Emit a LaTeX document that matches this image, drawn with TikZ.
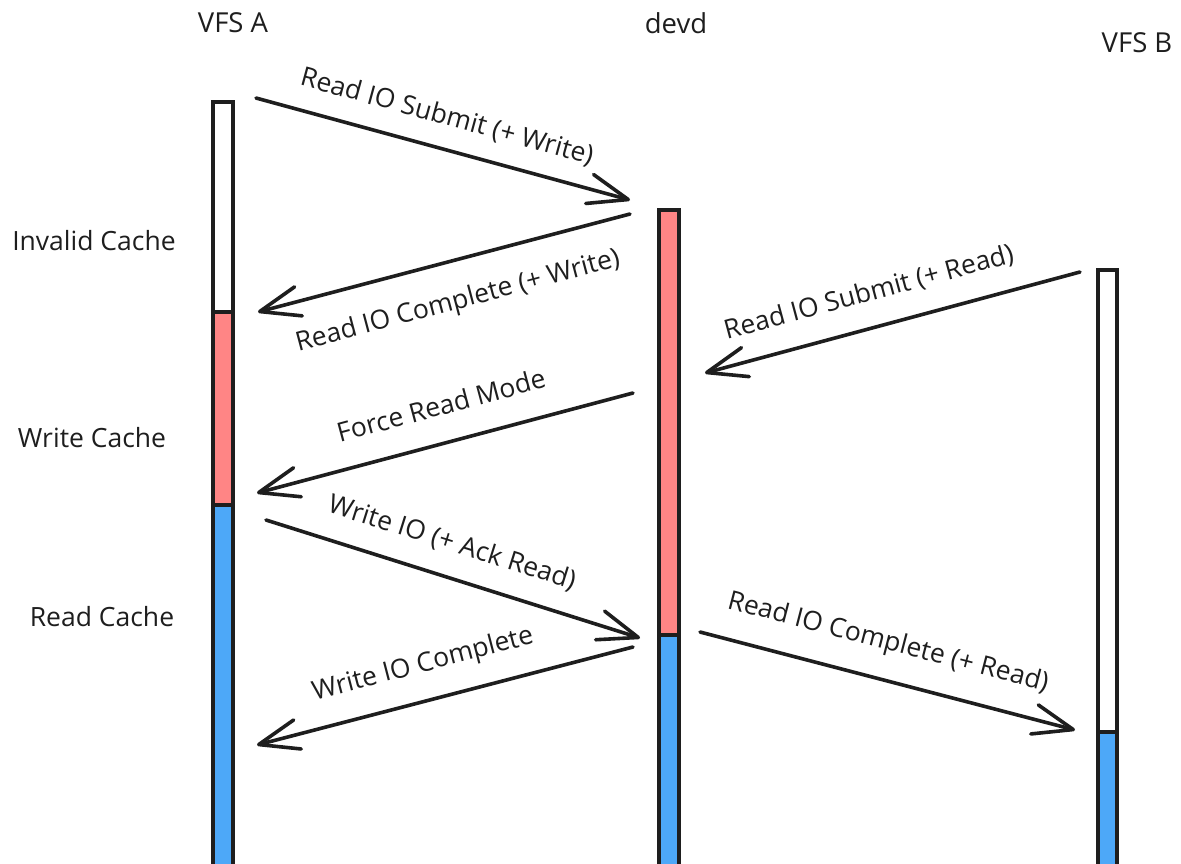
\documentclass[tikz,border=0pt]{standalone}
\usepackage{fontspec}
\setmainfont{Open Sans}
\usetikzlibrary{arrows.meta}
\definecolor{ink}{HTML}{1E1E1E}
\definecolor{cred}{HTML}{FF8585}
\definecolor{cblue}{HTML}{4DA8F8}
\tikzset{
  seg/.style={draw=ink, line width=4pt},
  msg/.style={draw=ink, line width=3.6pt, line cap=round,
    -{Straight Barb[length=40pt,width=30pt,line width=3.6pt,round]}},
  lbl/.style={font=\fontsize{26.5}{30}\selectfont, text=ink, inner sep=0pt},
  ttl/.style={font=\fontsize{27.5}{31}\selectfont, text=ink, inner sep=0pt},
}
\begin{document}
\begin{tikzpicture}[x=1pt,y=-1pt]
\path[use as bounding box] (0,0) rectangle (1181,863);
% titles
\node[ttl] (tA) at (233,23) {VFS A};
\node[ttl] (tD) at (676,23) {devd};
\node[ttl] (tB) at (1137,43) {VFS B};
% state labels
\node[lbl] (lInv) at (94,241) {Invalid Cache};
\node[lbl] (lWr) at (92,438) {Write Cache};
\node[lbl] (lRd) at (102,617) {Read Cache};
% bars VFS A
\draw[seg, fill=white] (213,102) rectangle (233,312);
\draw[seg, fill=cred] (213,312) rectangle (233,505);
\draw[seg, fill=cblue] (213,505) rectangle (233,870);
% bars devd
\draw[seg, fill=cred] (659,210) rectangle (679,635);
\draw[seg, fill=cblue] (659,635) rectangle (679,870);
% bars VFS B
\draw[seg, fill=white] (1098,270) rectangle (1117,732);
\draw[seg, fill=cblue] (1098,732) rectangle (1117,870);
% arrow endpoints
\coordinate (a1s) at (256,98);  \coordinate (a1e) at (630,200);
\coordinate (a2s) at (630,214); \coordinate (a2e) at (258,312);
\coordinate (a3s) at (1080,272); \coordinate (a3e) at (705,373);
\coordinate (a4s) at (633,393); \coordinate (a4e) at (257,493);
\coordinate (a5s) at (266,520); \coordinate (a5e) at (640,638);
\coordinate (a6s) at (633,647); \coordinate (a6e) at (257,745);
\coordinate (a7s) at (700,632); \coordinate (a7e) at (1075,730);
\draw[msg] (a1s) -- (a1e);
\draw[msg] (a2s) -- (a2e);
\draw[msg] (a3s) -- (a3e);
\draw[msg] (a4s) -- (a4e);
\draw[msg] (a5s) -- (a5e);
\draw[msg] (a6s) -- (a6e);
\draw[msg] (a7s) -- (a7e);
% arrow labels
\node[lbl, rotate=-15.3] (m1) at (447,117) {Read IO Submit (+ Write)};
\node[lbl, rotate=14.9] (m2) at (458,302) {Read IO Complete (+ Write)};
\node[lbl, rotate=15.1] (m3) at (869,293) {Read IO Submit (+ Read)};
\node[lbl, rotate=15] (m4) at (441,405) {Force Read Mode};
\node[lbl, rotate=-17.5] (m5) at (452,543) {Write IO (+ Ack Read)};
\node[lbl, rotate=14.6] (m6) at (423,665) {Write IO Complete};
\node[lbl, rotate=-14.6] (m7) at (888,643) {Read IO Complete (+ Read)};
\end{tikzpicture}
\end{document}
